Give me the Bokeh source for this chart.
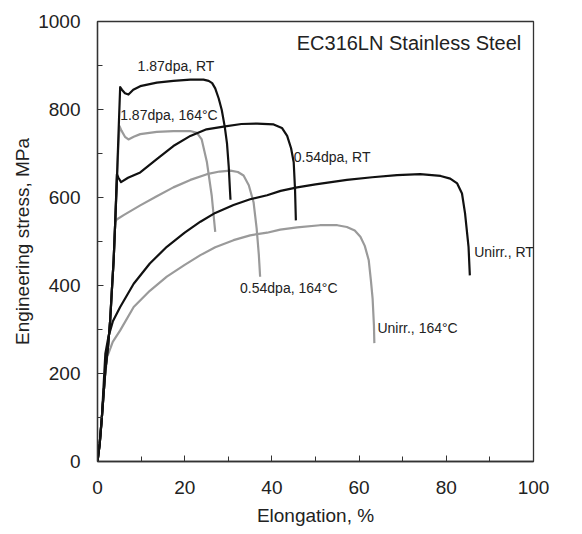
from bokeh.plotting import figure
from bokeh.models import Range1d, SingleIntervalTicker, Label
from bokeh.embed import file_html
from bokeh.resources import INLINE

FONT = "Liberation Sans"

# ---- data (elongation %, engineering stress MPa) ----
unirr_rt_x = [0, 0.5, 1.0, 1.8, 2.5, 3.5, 5.2, 8.3, 12, 15.9, 20, 23.6, 27, 31.2, 35, 38.9, 42, 45.8,
              50, 57.2, 63, 68.7, 74, 78.7, 80.9, 82.5, 83.6, 84.3, 85.1, 85.4]
unirr_rt_y = [0, 40, 100, 245, 283, 318, 351, 404, 450, 488, 520, 545, 565, 583, 596, 605, 615, 623,
              630, 640, 646, 651, 653, 649, 643, 632, 609, 564, 488, 423]

unirr_164_x = [0, 0.5, 1.0, 1.6, 2.2, 3.5, 5.2, 8.3, 12, 15.9, 20, 23.6, 27, 31.2, 35, 38.9, 41.9,
               45.8, 51, 55, 57.2, 59, 60.3, 61.3, 62.2, 62.7, 63.1, 63.4, 63.5]
unirr_164_y = [0, 40, 100, 180, 237, 272, 298, 351, 388, 420, 447, 469, 487, 503, 514, 520, 527,
               532, 537, 537, 533, 525, 511, 490, 458, 412, 370, 310, 269]

dpa054_rt_x = [0, 0.5, 1.0, 1.8, 2.4, 2.9, 3.3, 3.7, 4.05, 4.45, 4.8, 5.4, 7, 9.8, 13.6, 17.4, 21.3,
               25, 28.9, 33, 36.6, 40.4, 42.3, 43.5, 44.4, 45.0, 45.3, 45.5]
dpa054_rt_y = [0, 40, 100, 207, 260, 320, 390, 457, 540, 653, 645, 635, 645, 657, 687, 717, 740,
               755, 761, 767, 768, 766, 758, 740, 712, 680, 620, 548]

dpa054_164_x = [0, 0.5, 1.0, 1.8, 2.4, 2.9, 3.3, 3.7, 4.06, 4.4, 6, 9.8, 13.6, 17.4, 21.3, 25.1, 28,
                30.5, 32.2, 33.5, 34.7, 35.8, 36.5, 37.0, 37.3]
dpa054_164_y = [0, 40, 100, 207, 260, 320, 390, 457, 544, 550, 560, 582, 603, 623, 640, 653, 659,
                661, 658, 650, 628, 589, 530, 470, 420]

dpa187_rt_x = [0, 0.5, 1.0, 1.8, 2.4, 2.9, 3.3, 3.7, 4.05, 4.45, 4.8, 5.2, 5.6, 6.3, 7.1, 8.2, 9.8,
               13.6, 17.4, 21.3, 24.3, 25.5, 26.3, 27, 27.8, 28.5, 29.2, 29.7, 30.1, 30.4, 30.5]
dpa187_rt_y = [0, 40, 100, 207, 260, 320, 390, 457, 540, 640, 740, 851, 845, 837, 834, 845, 853,
               861, 865, 868, 868, 865, 860, 848, 825, 799, 760, 723, 670, 613, 595]

dpa187_164_x = [0, 0.5, 1.0, 1.8, 2.4, 2.9, 3.3, 3.7, 4.05, 4.45, 4.8, 5.05, 5.5, 6.3, 7.1, 8.3, 9.8,
                13.6, 17.4, 21.3, 22.8, 23.9, 25.1, 26.2, 27.0]
dpa187_164_y = [0, 40, 100, 207, 260, 320, 390, 457, 540, 640, 720, 762, 752, 738, 732, 738, 744,
                749, 751, 751, 747, 732, 680, 604, 522]

curve_labels = ["1.87dpa, RT", "1.87dpa, 164°C", "0.54dpa, RT", "0.54dpa, 164°C",
                "Unirr., RT", "Unirr., 164°C"]
title_text = "EC316LN Stainless Steel"
x_title = "Elongation, %"
y_title = "Engineering stress, MPa"

# label anchor positions (data units, left-aligned, vertically centred)
label_pos = [(9.2, 899), (5.2, 788), (45.0, 692), (32.7, 394), (86.4, 476), (64.2, 303)]

BLACK = "#111111"
GRAY = "#9a9a9a"

p = figure(width=582, height=534, output_backend="svg", toolbar_location=None,
           x_range=Range1d(0, 100), y_range=Range1d(0, 1000),
           min_border_left=97, min_border_right=49, min_border_top=21, min_border_bottom=73)
p.background_fill_color = "white"
p.border_fill_color = "white"
p.grid.visible = False
p.outline_line_color = "#333333"
p.outline_line_width = 1.3

# gray (164 C) curves first, black (RT) on top
for xs, ys in [(unirr_164_x, unirr_164_y), (dpa054_164_x, dpa054_164_y), (dpa187_164_x, dpa187_164_y)]:
    p.line(xs, ys, line_color=GRAY, line_width=2.2, line_join="round")
for xs, ys in [(unirr_rt_x, unirr_rt_y), (dpa054_rt_x, dpa054_rt_y), (dpa187_rt_x, dpa187_rt_y)]:
    p.line(xs, ys, line_color=BLACK, line_width=2.2, line_join="round")

for txt, (lx, ly) in zip(curve_labels, label_pos):
    p.add_layout(Label(x=lx, y=ly, text=txt, text_font=FONT, text_font_size="14px",
                       text_color="#222222", text_align="left", text_baseline="middle"))

p.add_layout(Label(x=97.2, y=951, text=title_text, text_font=FONT, text_font_size="20px",
                   text_color="#222222", text_align="right", text_baseline="middle"))

p.xaxis.ticker = SingleIntervalTicker(interval=20, num_minor_ticks=2)
p.yaxis.ticker = SingleIntervalTicker(interval=200, num_minor_ticks=2)
for ax in (p.xaxis, p.yaxis):
    ax.major_tick_in = 6
    ax.major_tick_out = 0
    ax.minor_tick_in = 5
    ax.minor_tick_out = 0
    ax.axis_line_color = "#333333"
    ax.axis_line_width = 1.3
    ax.major_tick_line_color = "#333333"
    ax.minor_tick_line_color = "#333333"
    ax.major_label_text_font = FONT
    ax.major_label_text_font_size = "19px"
    ax.major_label_text_color = "#222222"
    ax.axis_label_text_font = FONT
    ax.axis_label_text_font_size = "19px"
    ax.axis_label_text_font_style = "normal"
    ax.axis_label_text_color = "#222222"

p.xaxis.axis_label = x_title
p.yaxis.axis_label = y_title
p.xaxis.major_label_standoff = 19
p.xaxis.axis_label_standoff = 8
p.yaxis.major_label_standoff = 17
p.yaxis.axis_label_standoff = 2

open("out.html", "w").write(file_html(p, INLINE))
